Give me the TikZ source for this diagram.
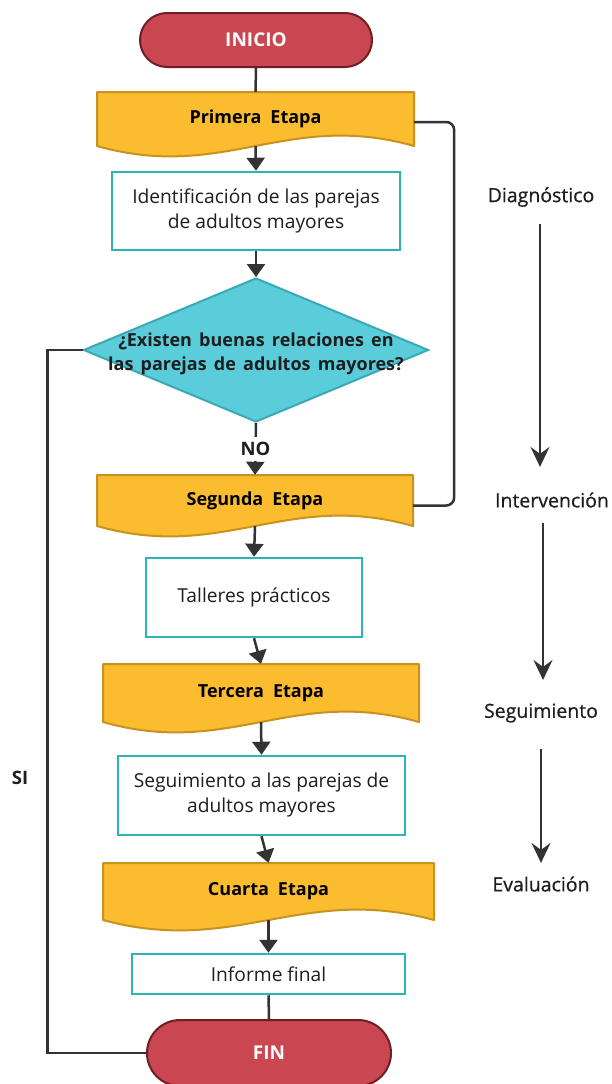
\documentclass[tikz,border=0pt]{standalone}
\usepackage{fontspec}
\setmainfont{Open Sans}
\newfontfamily\semib[FakeBold=0.6]{Open Sans}
\usetikzlibrary{arrows.meta,shapes.geometric,calc}
\definecolor{pillred}{HTML}{CA4650}
\definecolor{pillborder}{HTML}{6E1F24}
\definecolor{docfill}{HTML}{FBBC30}
\definecolor{docborder}{HTML}{C7931E}
\definecolor{boxborder}{HTML}{2DB5B5}
\definecolor{decfill}{HTML}{5BCCDA}
\definecolor{decborder}{HTML}{3AA9B6}
\definecolor{lineclr}{HTML}{333333}
\definecolor{txt}{HTML}{1E1E1E}
\tikzset{
  pill/.style={rectangle, rounded corners=27pt, draw=pillborder, fill=pillred, line width=2pt,
    text=white, font=\bfseries\fontsize{19}{22}\selectfont, minimum width=232pt, minimum height=54pt},
  stepbox/.style={rectangle, draw=boxborder, fill=white, line width=2.5pt, align=center,
    text=txt, font=\fontsize{19.2}{25}\selectfont, inner sep=0pt},
  etapatext/.style={rectangle, inner sep=0pt, text=black, font=\bfseries\fontsize{18}{21}\selectfont},
  docstyle/.style={draw=docborder, fill=docfill, line width=2pt, line join=round},
  decision/.style={diamond, draw=decborder, fill=decfill, line width=2pt, inner sep=0pt},
  conn/.style={draw=lineclr, line width=2.5pt},
  arr/.style={conn, -{Triangle[width=18pt,length=13pt]}},
  phase/.style={text=txt, font=\semib\fontsize{19.5}{22}\selectfont},
  phasearr/.style={draw=lineclr, line width=2pt, -{Stealth[width=19pt,length=20pt,inset=7pt]}},
  lbl/.style={text=txt, font=\bfseries\fontsize{18.5}{22}\selectfont}
}
\newcommand\etapa[6]{%
  \draw[docstyle] (#2,#4) -- (#3,#4) -- (#3,#5)
    .. controls ({#3-0.4*(#3-#2)},{#5-36}) and ({#2+0.4*(#3-#2)},{#5+36}) .. (#2,#5) -- cycle;
  \node[etapatext, minimum width={#3-#2}, minimum height={#5-#4}] (#1) at ({(#2+#3)/2},{(#4+#5)/2}) {#6};
}
\begin{document}
\begin{tikzpicture}[x=1pt,y=-1pt]
\useasboundingbox[fill=white] (0,0) rectangle (612,1084);

% pills
\node[pill] (ini) at (256,40) {INICIO};
\node[pill, minimum width=244pt, minimum height=66pt, rounded corners=33pt] (fin) at (269,1053) {FIN};

% stages
\etapa{e1}{97}{414}{92}{146}{Primera\hspace{0.5em}Etapa}
\etapa{e2}{97}{413}{475}{526}{Segunda\hspace{0.5em}Etapa}
\etapa{e3}{103}{419}{664}{722}{Tercera\hspace{0.5em}Etapa}
\etapa{e4}{103}{434}{863}{920}{Cuarta\hspace{0.5em}Etapa}

% boxes
\node[stepbox, minimum width=288pt, minimum height=78pt] (b1) at (256,211) {Identificación de las parejas\\de adultos mayores};
\node[stepbox, minimum width=216pt, minimum height=79pt] (b2) at (254,597.5) {Talleres prácticos};
\node[stepbox, minimum width=287pt, minimum height=79pt] (b3) at (261.5,795.5) {Seguimiento a las parejas de\\adultos mayores};
\node[stepbox, minimum width=273pt, minimum height=40pt] (b4) at (268.5,974) {Informe final};

% decision
\node[decision, minimum width=345pt, minimum height=144pt] (dec) at (256,350) {};
\node[text=txt, font=\bfseries\fontsize{18}{23.5}\selectfont, align=center] (dectext) at ([yshift=-4pt]dec.center)
  {¿Existen\hspace{0.4em}buenas\hspace{0.4em}relaciones\hspace{0.4em}en\\las\hspace{0.4em}parejas\hspace{0.4em}de\hspace{0.4em}adultos\hspace{0.4em}mayores?};

% main connectors
\draw[conn] (ini.south) -- (e1.north);
\draw[arr] (e1.south) -- (b1.north);
\draw[arr] (b1.south) -- (dec.north);
\draw[arr] (dec.south) -- node[fill=white, lbl, inner ysep=5pt] (no) {NO} (e2.north);
\draw[arr] (e2.south) -- (b2.north);
\draw[arr] (b2.south) -- (e3.north);
\draw[arr] (e3.south) -- (b3.north);
\draw[arr] (b3.south) -- (e4.north);
\draw[arr] (e4.south) -- (b4.north);
\draw[conn] (b4.south) -- (fin.north);

% loops
\draw[conn, rounded corners=8pt] ([yshift=-3pt]e1.east) -- ++(40,0) |- ([yshift=-5pt]e2.east);
\draw[conn] (dec.west) -- ++(-35,0) |- (fin.west);
\node[lbl] (si) at (20,778) {SI};

% phases
\node[phase] (diag) at (541,197) {Diagnóstico};
\node[phase] (interv) at (552,500) {Intervención};
\node[phase] (segui) at (541,713) {Seguimiento};
\node[phase] (eval) at (541,884) {Evaluación};
\draw[phasearr, shorten <=14pt, shorten >=22pt] ([xshift=-1pt]diag.south) -- ([xshift=-1pt]diag.south |- interv.north);
\draw[phasearr, shorten <=12pt, shorten >=20pt] ([xshift=-9pt]interv.south) -- ([xshift=-9pt]interv.south |- segui.north);
\draw[phasearr, shorten <=23pt, shorten >=10pt] (segui.south) -- (segui.south |- eval.north);
\end{tikzpicture}
\end{document}
